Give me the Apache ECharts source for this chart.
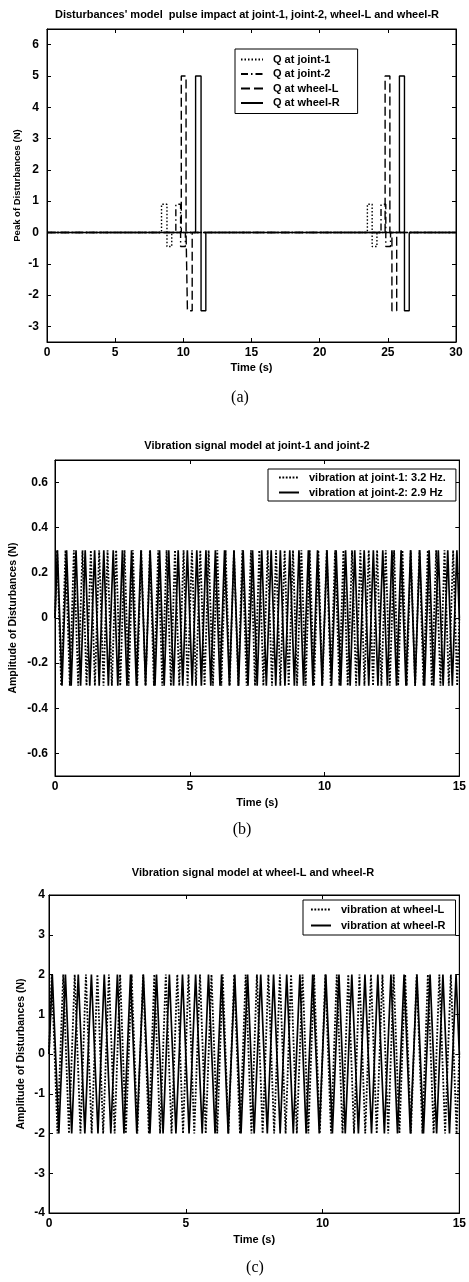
<!DOCTYPE html>
<html>
<head>
<meta charset="utf-8">
<script src="https://cdn.jsdelivr.net/npm/echarts@6/dist/echarts.min.js"></script>
<style>
  html, body { margin: 0; padding: 0; background: #fff; }
  #main { width: 469px; height: 1282px; }
</style>
</head>
<body>
<div id="main"></div>
<script>
// ---- (a) pulse impacts: step edges (s) and levels (N), level holds until next edge
var joint1PulseTime  = [0, 8.4, 8.8, 9.15, 23.5, 23.85, 24.2, 30];
var joint1PulseValue = [0, 0.9, -0.45, 0, 0.9, -0.45, 0, 0];
var joint2PulseTime  = [0, 9.45, 9.8, 10.15, 24.5, 24.85, 25.2, 30];
var joint2PulseValue = [0, 0.9, -0.45, 0, 0.9, -0.45, 0, 0];
var wheelLPulseTime  = [0, 9.85, 10.2, 10.3, 10.65, 24.8, 25.15, 25.3, 25.65, 30];
var wheelLPulseValue = [0, 5, 0, -2.5, 0, 5, 0, -2.5, 0, 0];
var wheelRPulseTime  = [0, 10.9, 11.3, 11.65, 25.85, 26.22, 26.57, 30];
var wheelRPulseValue = [0, 5, -2.5, 0, 5, -2.5, 0, 0];

var timeTicksA = [0, 5, 10, 15, 20, 25, 30];
var peakTicksA = [-3, -2, -1, 0, 1, 2, 3, 4, 5, 6];

// ---- (b) joint vibrations: crest/trough times (s), alternating +amp / -amp
var ampJoint = 0.3;
var joint1Peaks = [0.08, 0.23, 0.39, 0.55, 0.70, 0.86, 1.02, 1.17, 1.33, 1.48, 1.64, 1.80, 1.95, 2.11, 2.27, 2.42, 2.58, 2.73, 2.89, 3.05,
  3.20, 3.36, 3.52, 3.67, 3.83, 3.98, 4.14, 4.30, 4.45, 4.61, 4.77, 4.92, 5.08, 5.23, 5.39, 5.55, 5.70, 5.86, 6.02, 6.17,
  6.33, 6.48, 6.64, 6.80, 6.95, 7.11, 7.27, 7.42, 7.58, 7.73, 7.89, 8.05, 8.20, 8.36, 8.52, 8.67, 8.83, 8.98, 9.14, 9.30,
  9.45, 9.61, 9.77, 9.92, 10.08, 10.23, 10.39, 10.55, 10.70, 10.86, 11.02, 11.17, 11.33, 11.48, 11.64, 11.80, 11.95, 12.11, 12.27, 12.42,
  12.58, 12.73, 12.89, 13.05, 13.20, 13.36, 13.52, 13.67, 13.83, 13.98, 14.14, 14.30, 14.45, 14.61, 14.77, 14.92];
var joint2Peaks = [0.09, 0.26, 0.43, 0.60, 0.78, 0.95, 1.12, 1.29, 1.47, 1.64, 1.81, 1.98, 2.16, 2.33, 2.50, 2.67, 2.84, 3.02, 3.19, 3.36,
  3.53, 3.71, 3.88, 4.05, 4.22, 4.40, 4.57, 4.74, 4.91,
  5.09, 5.26, 5.43, 5.60, 5.78, 5.95, 6.12, 6.29, 6.47, 6.64, 6.81, 6.98, 7.16, 7.33, 7.50, 7.67, 7.84, 8.02, 8.19, 8.36,
  8.53, 8.71, 8.88, 9.05, 9.22, 9.40, 9.57, 9.74, 9.91,
  10.09, 10.26, 10.43, 10.60, 10.78, 10.95, 11.12, 11.29, 11.47, 11.64, 11.81, 11.98, 12.16, 12.33, 12.50, 12.67, 12.84, 13.02, 13.19, 13.36,
  13.53, 13.71, 13.88, 14.05, 14.22, 14.40, 14.57, 14.74, 14.91];
var ampTicksB = [-0.6, -0.4, -0.2, 0, 0.2, 0.4, 0.6];

// ---- (c) wheel vibrations
var ampWheel = 2;
var wheelLPeaks = [0.10, 0.31, 0.52, 0.73, 0.94, 1.15, 1.35, 1.56, 1.77, 1.98, 2.19, 2.40, 2.60, 2.81, 3.02, 3.23, 3.44, 3.65, 3.85, 4.06, 4.27, 4.48, 4.69, 4.90,
  5.10, 5.31, 5.52, 5.73, 5.94, 6.15, 6.35, 6.56, 6.77, 6.98, 7.19, 7.40, 7.60, 7.81, 8.02, 8.23, 8.44, 8.65, 8.85, 9.06, 9.27, 9.48, 9.69, 9.90,
  10.10, 10.31, 10.52, 10.73, 10.94, 11.15, 11.35, 11.56, 11.77, 11.98, 12.19, 12.40, 12.60, 12.81, 13.02, 13.23, 13.44, 13.65, 13.85, 14.06, 14.27, 14.48, 14.69, 14.90];
var wheelRPeaks = [0.12, 0.36, 0.60, 0.83, 1.07, 1.31, 1.55, 1.79, 2.02, 2.26, 2.50, 2.74, 2.98, 3.21, 3.45, 3.69, 3.93, 4.17, 4.40, 4.64, 4.88,
  5.12, 5.36, 5.60, 5.83, 6.07, 6.31, 6.55, 6.79, 7.02, 7.26, 7.50, 7.74, 7.98, 8.21, 8.45, 8.69, 8.93, 9.17, 9.40, 9.64, 9.88,
  10.12, 10.36, 10.60, 10.83, 11.07, 11.31, 11.55, 11.79, 12.02, 12.26, 12.50, 12.74, 12.98, 13.21, 13.45, 13.69, 13.93, 14.17, 14.40, 14.64, 14.88];
var timeTicksBC = [0, 5, 10, 15];
var ampTicksC = [-4, -3, -2, -1, 0, 1, 2, 3, 4];

var FONT = 'Liberation Sans, Arial, sans-serif';

function pairs(t, v) {
  return t.map(function (x, i) { return [x, v[i]]; });
}
// wave starts and ends on zero, crests/troughs alternate
function wave(peaks, amp, tEnd) {
  var d = [[0, 0]];
  for (var i = 0; i < peaks.length; i++) {
    d.push([peaks[i], i % 2 === 0 ? amp : -amp]);
  }
  d.push([tEnd, 0]);
  return d;
}

function xAxisPair(grid, max, step, gap) {
  var bottom = {
    type: 'value', gridIndex: grid, min: 0, max: max, interval: step,
    name: 'Time (s)', nameLocation: 'middle', nameGap: gap,
    nameTextStyle: { fontFamily: FONT, fontSize: 11, fontWeight: 'bold', color: '#000' },
    axisLine: { show: true, onZero: false, lineStyle: { color: '#000', width: 1 } },
    axisTick: { show: true, inside: true, length: 4, lineStyle: { color: '#000' } },
    axisLabel: { fontFamily: FONT, fontSize: 12, fontWeight: 'bold', color: '#000', margin: 5, showMaxLabel: true },
    splitLine: { show: false }
  };
  var top = {
    type: 'value', gridIndex: grid, position: 'top', min: 0, max: max, interval: step,
    axisLine: { show: true, onZero: false, lineStyle: { color: '#000', width: 1 } },
    axisTick: { show: true, inside: true, length: 4, lineStyle: { color: '#000' } },
    axisLabel: { show: false }, splitLine: { show: false }
  };
  return [bottom, top];
}

function yAxisPair(grid, min, max, ticks, name, nameSize, gap, margin) {
  var left = {
    type: 'value', gridIndex: grid, min: min, max: max,
    name: name, nameLocation: 'middle', nameGap: gap, nameMoveOverlap: false,
    nameTextStyle: { fontFamily: FONT, fontSize: nameSize, fontWeight: 'bold', color: '#000' },
    axisLine: { show: true, onZero: false, lineStyle: { color: '#000', width: 1 } },
    axisTick: { show: true, inside: true, length: 4, customValues: ticks, lineStyle: { color: '#000' } },
    axisLabel: { fontFamily: FONT, fontSize: 12, fontWeight: 'bold', color: '#000', margin: margin, customValues: ticks },
    splitLine: { show: false }
  };
  var right = {
    type: 'value', gridIndex: grid, position: 'right', min: min, max: max,
    axisLine: { show: true, onZero: false, lineStyle: { color: '#000', width: 1 } },
    axisTick: { show: true, inside: true, length: 4, customValues: ticks, lineStyle: { color: '#000' } },
    axisLabel: { show: false, customValues: ticks }, splitLine: { show: false }
  };
  return [left, right];
}

function lineSeries(name, xi, data, type, width, step) {
  return {
    name: name, type: 'line', xAxisIndex: xi, yAxisIndex: xi,
    data: data, step: step || false, symbol: 'none', animation: false,
    lineStyle: { color: '#000', width: width, type: type },
    itemStyle: { color: '#000' }
  };
}

var xA = xAxisPair(0, 30, 5, 20);
var xB = xAxisPair(1, 15, 5, 21);
var xC = xAxisPair(2, 15, 5, 21);
var yA = yAxisPair(0, -3.5, 6.5, peakTicksA, 'Peak of Disturbances (N)', 9.5, 25, 8);
var yB = yAxisPair(1, -0.7, 0.7, ampTicksB, 'Amplitude of Disturbances (N)', 10.5, 36, 7);
var yC = yAxisPair(2, -4, 4, ampTicksC, 'Amplitude of Disturbances (N)', 10.5, 22, 4);

var legendBase = {
  orient: 'vertical', show: true, selectedMode: false,
  backgroundColor: '#fff', borderColor: '#000', borderWidth: 1,
  itemWidth: 22, itemHeight: 11,
  itemStyle: { opacity: 0, borderWidth: 0 },
  textStyle: { fontFamily: FONT, fontSize: 11, fontWeight: 'bold', color: '#000', padding: [0, 0, 0, 5] }
};

var option = {
  backgroundColor: '#fff',
  animation: false,
  grid: [
    { left: 47, top: 29, width: 409, height: 313, show: true, borderColor: '#000', borderWidth: 1 },
    { left: 54, top: 460, width: 409, height: 316, show: true, borderColor: '#000', borderWidth: 1 },
    { left: 49, top: 895, width: 413, height: 318, show: true, borderColor: '#000', borderWidth: 1 }
  ],
  xAxis: [xA[0], xA[1], xB[0], xB[1], xC[0], xC[1]],
  yAxis: [yA[0], yA[1], yB[0], yB[1], yC[0], yC[1]],
  legend: [
    Object.assign({}, legendBase, {
      left: 235, top: 49, itemGap: 3.5, padding: [5, 18, 5, 5],
      data: ['Q at joint-1', 'Q at joint-2', 'Q at wheel-L', 'Q at wheel-R']
    }),
    Object.assign({}, legendBase, {
      left: 268, top: 469, itemGap: 4, itemHeight: 10, itemWidth: 20, padding: [3, 10, 3, 10],
      data: ['vibration at joint-1: 3.2 Hz.', 'vibration at joint-2: 2.9 Hz']
    }),
    Object.assign({}, legendBase, {
      left: 303, top: 900, itemGap: 5, itemWidth: 20, padding: [4, 10, 4, 7],
      data: ['vibration at wheel-L', 'vibration at wheel-R']
    })
  ],
  graphic: [
    { type: 'text', x: 247, y: 15, style: { text: "Disturbances' model  pulse impact at joint-1, joint-2, wheel-L and wheel-R", font: 'bold 11px ' + FONT, textAlign: 'center', textVerticalAlign: 'middle', fill: '#000' } },
    { type: 'text', x: 240, y: 398, style: { text: '(a)', font: '16px Liberation Serif, Times New Roman, serif', textAlign: 'center', textVerticalAlign: 'middle', fill: '#000' } },
    { type: 'text', x: 257, y: 446, style: { text: 'Vibration signal model at joint-1 and joint-2', font: 'bold 11px ' + FONT, textAlign: 'center', textVerticalAlign: 'middle', fill: '#000' } },
    { type: 'text', x: 242, y: 830, style: { text: '(b)', font: '16px Liberation Serif, Times New Roman, serif', textAlign: 'center', textVerticalAlign: 'middle', fill: '#000' } },
    { type: 'text', x: 253, y: 873, style: { text: 'Vibration signal model at wheel-L and wheel-R', font: 'bold 11px ' + FONT, textAlign: 'center', textVerticalAlign: 'middle', fill: '#000' } },
    { type: 'text', x: 255, y: 1268, style: { text: '(c)', font: '16px Liberation Serif, Times New Roman, serif', textAlign: 'center', textVerticalAlign: 'middle', fill: '#000' } }
  ],
  series: [
    lineSeries('Q at joint-1', 0, pairs(joint1PulseTime, joint1PulseValue), [1.5, 2], 1.4, 'end'),
    lineSeries('Q at joint-2', 0, pairs(joint2PulseTime, joint2PulseValue), [7, 3, 1.5, 3], 1.4, 'end'),
    lineSeries('Q at wheel-L', 0, pairs(wheelLPulseTime, wheelLPulseValue), [9, 4], 1.4, 'end'),
    lineSeries('Q at wheel-R', 0, pairs(wheelRPulseTime, wheelRPulseValue), 'solid', 1.4, 'end'),

    lineSeries('vibration at joint-1: 3.2 Hz.', 2, wave(joint1Peaks, ampJoint, 15), [1.8, 1.6], 1.8),
    lineSeries('vibration at joint-2: 2.9 Hz', 2, wave(joint2Peaks, ampJoint, 15), 'solid', 1.7),

    lineSeries('vibration at wheel-L', 4, wave(wheelLPeaks, ampWheel, 15), [1.8, 1.6], 1.8),
    lineSeries('vibration at wheel-R', 4, wave(wheelRPeaks, ampWheel, 15), 'solid', 1.7)
  ]
};

function init() {
  var chart = echarts.init(document.getElementById('main'));
  chart.setOption(option);
}
init();
</script>
</body>
</html>
